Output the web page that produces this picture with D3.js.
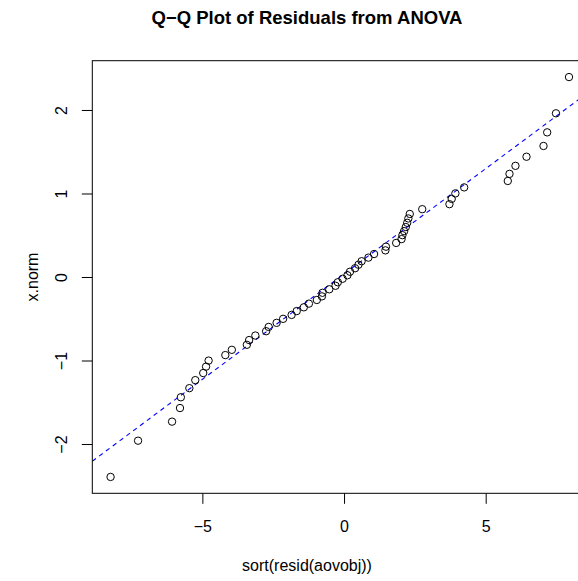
<!DOCTYPE html>
<html>
<head>
<meta charset="utf-8">
<script src="https://cdn.jsdelivr.net/npm/d3@7"></script>
<style>
html,body{margin:0;padding:0;background:#fff;}
svg{display:block;font-family:"Liberation Sans",Arial,Helvetica,sans-serif;}
</style>
</head>
<body>
<svg id="chart" width="578" height="581"></svg>
<script>
// Sorted residuals (x axis)
const residSorted = [
  -8.24, -7.27, -6.07, -5.79, -5.76, -5.46, -5.25, -4.97, -4.87, -4.78,
  -4.19, -3.96, -3.43, -3.35, -3.13, -2.75, -2.66, -2.38, -2.15, -1.85,
  -1.67, -1.42, -1.24, -0.96, -0.78, -0.76, -0.52, -0.30, -0.22, -0.05,
  0.12, 0.21, 0.39, 0.51, 0.62, 0.86, 1.06, 1.46, 1.48, 1.84,
  2.03, 2.06, 2.12, 2.18, 2.23, 2.27, 2.32, 2.76, 3.72, 3.80,
  3.93, 4.24, 5.78, 5.84, 6.05, 6.44, 7.04, 7.17, 7.48, 7.94
];
// Normal quantiles (y axis)
const xNorm = [
  -2.394, -1.960, -1.732, -1.569, -1.440, -1.331, -1.235, -1.150, -1.073, -1.001,
  -0.935, -0.872, -0.812, -0.755, -0.701, -0.649, -0.598, -0.549, -0.501, -0.454,
  -0.408, -0.363, -0.319, -0.275, -0.232, -0.189, -0.147, -0.105, -0.063, -0.021,
  0.021, 0.063, 0.105, 0.147, 0.189, 0.232, 0.275, 0.319, 0.363, 0.408,
  0.454, 0.501, 0.549, 0.598, 0.649, 0.701, 0.755, 0.812, 0.872, 0.935,
  1.001, 1.073, 1.150, 1.235, 1.331, 1.440, 1.569, 1.732, 1.960, 2.394
];
// Reference line (intercept, slope)
const refLine = [0.036, 0.2523];
const xTicks = [-5, 0, 5];
const yTicks = [-2, -1, 0, 1, 2];
const xDomain = [-8.885, 8.6];
const yDomain = [-2.59, 2.59];
const titleText = "Q\u2212Q Plot of Residuals from ANOVA";
const xLabelText = "sort(resid(aovobj))";
const yLabelText = "x.norm";

const svg = d3.select("#chart");
const L = 92.3, R = 587.7, T = 60.7, B = 493.3;
const x = d3.scaleLinear().domain(xDomain).range([L, R]);
const y = d3.scaleLinear().domain(yDomain).range([B, T]);

svg.append("rect").attr("width", 578).attr("height", 581).attr("fill", "#fff");

svg.append("defs").append("clipPath").attr("id", "clip")
  .append("rect").attr("x", L).attr("y", T).attr("width", R - L).attr("height", B - T);

// reference line
svg.append("line")
  .attr("clip-path", "url(#clip)")
  .attr("x1", x(xDomain[0])).attr("y1", y(refLine[0] + refLine[1] * xDomain[0]))
  .attr("x2", x(xDomain[1])).attr("y2", y(refLine[0] + refLine[1] * xDomain[1]))
  .attr("stroke", "#0000ff").attr("stroke-width", 1.1).attr("stroke-dasharray", "4.5,4");

// points
svg.append("g").selectAll("circle").data(residSorted.map((d, i) => [d, xNorm[i]]))
  .join("circle")
  .attr("cx", d => x(d[0])).attr("cy", d => y(d[1])).attr("r", 3.7)
  .attr("fill", "none").attr("stroke", "#000").attr("stroke-width", 1);

// box
svg.append("rect").attr("x", L).attr("y", T).attr("width", R - L).attr("height", B - T)
  .attr("fill", "none").attr("stroke", "#000").attr("stroke-width", 1);

// x axis
const xAxis = d3.axisBottom(x).tickValues(xTicks).tickSize(10.5).tickPadding(0)
  .tickFormat(d => d < 0 ? "\u2212" + Math.abs(d) : String(d));
const gx = svg.append("g").attr("transform", `translate(0,${B})`).call(xAxis);
gx.select(".domain").remove();
gx.selectAll("line").attr("stroke", "#000");
gx.selectAll("text").attr("y", 38.4).attr("dy", null).attr("fill", "#000")
  .attr("font-size", 16).attr("font-family", "Liberation Sans, Arial, sans-serif");

// y axis
const yAxis = d3.axisLeft(y).tickValues(yTicks).tickSize(10.5).tickPadding(0)
  .tickFormat(d => d < 0 ? "\u2212" + Math.abs(d) : String(d));
const gy = svg.append("g").attr("transform", `translate(${L},0)`).call(yAxis);
gy.select(".domain").remove();
gy.selectAll("line").attr("stroke", "#000");
gy.selectAll("text")
  .attr("x", null).attr("dy", null)
  .attr("transform", "translate(-25.3,0) rotate(-90)")
  .attr("text-anchor", "middle").attr("fill", "#000")
  .attr("font-size", 16).attr("font-family", "Liberation Sans, Arial, sans-serif");

// title
svg.append("text").attr("x", 307).attr("y", 24).attr("text-anchor", "middle")
  .attr("font-size", 18.5).attr("font-weight", "bold").attr("fill", "#000").text(titleText);

// x label
svg.append("text").attr("x", 307).attr("y", 571).attr("text-anchor", "middle")
  .attr("font-size", 16).attr("fill", "#000").text(xLabelText);

// y label
svg.append("text").attr("transform", `translate(38,${(T + B) / 2}) rotate(-90)`)
  .attr("text-anchor", "middle").attr("font-size", 16).attr("fill", "#000").text(yLabelText);
</script>
</body>
</html>
